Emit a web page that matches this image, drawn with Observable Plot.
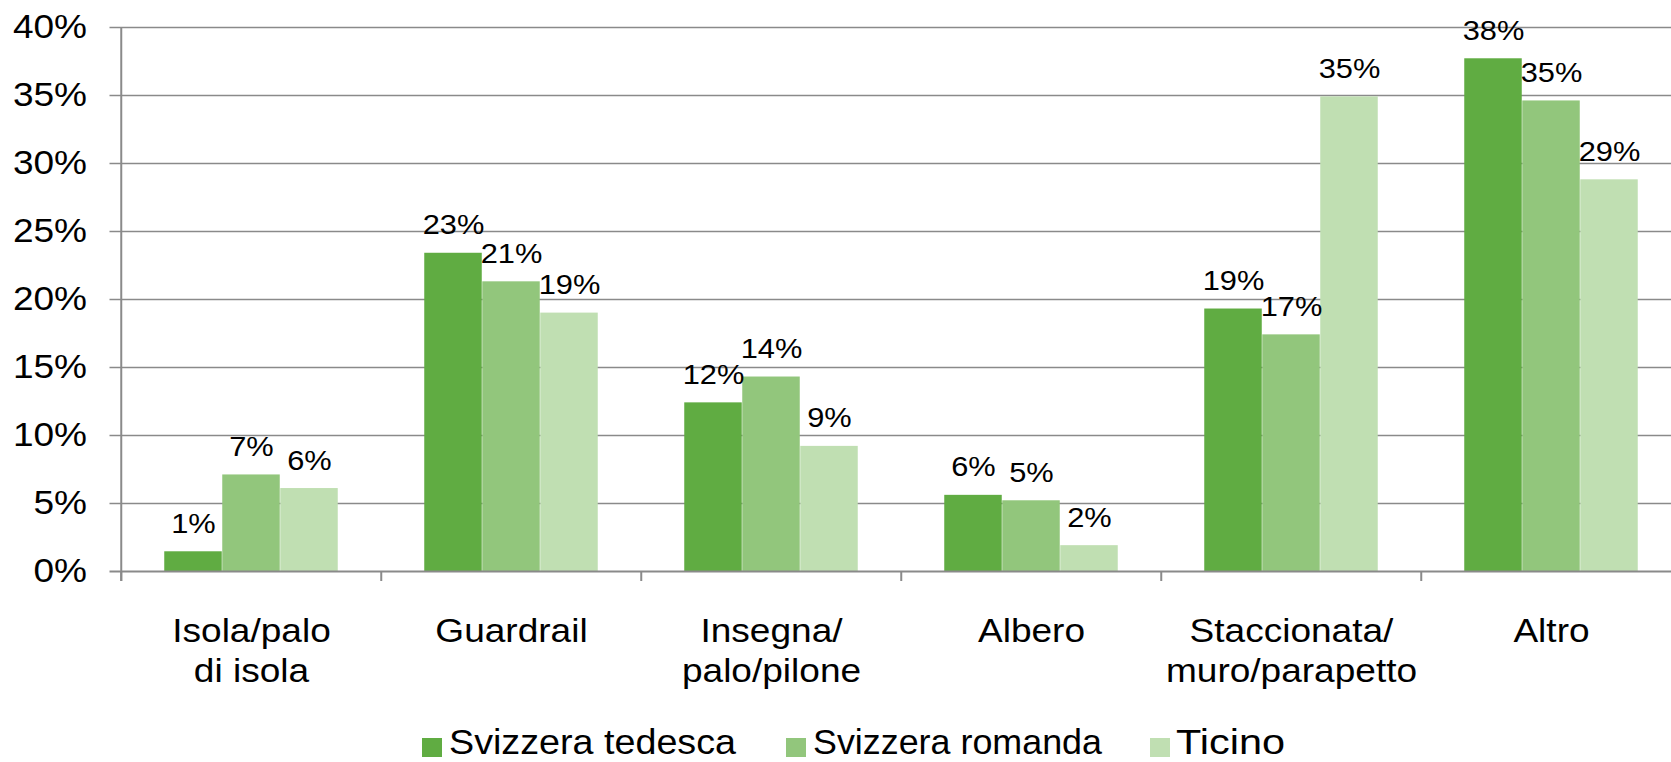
<!DOCTYPE html>
<html><head><meta charset="utf-8">
<script src="https://cdn.jsdelivr.net/npm/d3@7"></script>
<script src="https://cdn.jsdelivr.net/npm/@observablehq/plot@0.6"></script>
<style>
body{margin:0;background:#fff;font-family:"Liberation Sans",Arial,sans-serif;}
#chart{width:1671px;background:#fff}
#chart svg{display:block}
#legend{position:relative;width:1671px;height:62px}
#legend .sw{position:absolute;width:20px;height:19px;top:38px}
#legend .lab{position:absolute;top:23.3px;font-size:34.5px;line-height:1.12;white-space:nowrap;color:#000;transform-origin:0 50%}
</style></head><body><div id="chart"></div>
<script>
// ---- data ----
const categories = ["Isola/palo\ndi isola", "Guardrail", "Insegna/\npalo/pilone", "Albero", "Staccionata/\nmuro/parapetto", "Altro"];
const series = ["Svizzera tedesca", "Svizzera romanda", "Ticino"];
const svizzeraTedesca = [1.45, 23.4, 12.4, 5.6, 19.3, 37.7];
const svizzeraRomanda = [7.1, 21.3, 14.3, 5.2, 17.4, 34.6];
const ticino = [6.1, 19.0, 9.2, 1.9, 34.9, 28.8];
const yTicks = [0, 5, 10, 15, 20, 25, 30, 35, 40];
const colors = ["#60AC42", "#92C67C", "#C0DFB2"];

const seriesValues = [svizzeraTedesca, svizzeraRomanda, ticino];
const rowsBySeries = seriesValues.map((vals, i) =>
  categories.map((c, j) => ({category: c, series: series[i], value: vals[j]})));

const W = 1671, H = 700;
const xRange = [119.5, 1682.5];
const step = (xRange[1] - xRange[0]) / categories.length;
const outer = 43.25;
const barW = (step - 2 * outer) / series.length;
const grid = "#8a8a8a";

const marks = [
  Plot.ruleY(yTicks.filter(t => t > 0), {y: d => d, stroke: grid, strokeWidth: 1.4, insetLeft: -10}),
];
rowsBySeries.forEach((rows, i) => {
  marks.push(Plot.barY(rows, {
    x: "category", y: "value", fill: colors[i],
    insetLeft: outer + i * barW, insetRight: outer + (series.length - 1 - i) * barW
  }));
});
marks.push(Plot.ruleY([0], {y: d => d, stroke: grid, strokeWidth: 2, insetLeft: -10}));
marks.push(Plot.ruleX(categories, {x: d => d, dx: -step / 2, y1: 0, y2: 0, insetTop: 10, stroke: grid, strokeWidth: 2}));
marks.push(Plot.ruleX([categories[0]], {x: d => d, dx: -step / 2, y1: 0, y2: 40, insetTop: 10, stroke: grid, strokeWidth: 2}));
rowsBySeries.forEach((rows, i) => {
  marks.push(Plot.text(rows, {
    x: "category", y: "value", text: d => Math.round(d.value) + "%",
    dx: (i - (series.length - 1) / 2) * barW, dy: -19, lineAnchor: "bottom",
    fontSize: 28, fill: "#000"
  }));
});
marks.push(Plot.text(categories, {
  x: d => d, frameAnchor: "bottom", text: d => d, lineAnchor: "top",
  dy: 42, lineHeight: 1.23, fontSize: 32.5, fill: "#000"
}));

const chart = Plot.plot({
  width: W, height: H,
  marginTop: 27, marginBottom: 129, marginLeft: 119.5, marginRight: 0,
  style: {fontFamily: "'Liberation Sans', Arial, sans-serif", fontSize: "32.5px", color: "#000", background: "#fff"},
  x: {domain: categories, range: xRange, padding: 0, axis: null},
  y: {domain: [0, 40], ticks: yTicks, tickSize: 0, tickPadding: 33, tickFormat: d => d + "%", label: null},
  marks
});
const host = document.getElementById("chart");
host.appendChild(chart);

// horizontal stretch of text (reference glyphs are wider than Arial)
chart.querySelectorAll("text").forEach(t => {
  const bb = t.getBBox();
  const cs = getComputedStyle(t);
  const anchor = cs.textAnchor;
  const k = parseFloat(cs.fontSize) < 30 ? 1.1 : 1.14;
  const cx = anchor === "middle" ? bb.x + bb.width / 2 : anchor === "end" ? bb.x + bb.width : bb.x;
  const prev = t.getAttribute("transform") || "";
  t.setAttribute("transform", `${prev} translate(${cx},0) scale(${k},1) translate(${-cx},0)`);
});

// legend below the plot (layout: swatch left, text left, text width)
const legendLayout = [[422, 449, 287], [786, 813, 289], [1150, 1176, 109]];
const legend = document.createElement("div");
legend.id = "legend";
host.appendChild(legend);
series.forEach((s, i) => {
  const [swX, txX, txW] = legendLayout[i];
  const sw = document.createElement("div");
  sw.className = "sw"; sw.style.background = colors[i]; sw.style.left = swX + "px";
  const lab = document.createElement("div");
  lab.className = "lab"; lab.textContent = s; lab.style.left = txX + "px";
  legend.appendChild(sw); legend.appendChild(lab);
  const w = lab.getBoundingClientRect().width;
  lab.style.transform = `scaleX(${txW / w})`;
});
</script></body></html>
